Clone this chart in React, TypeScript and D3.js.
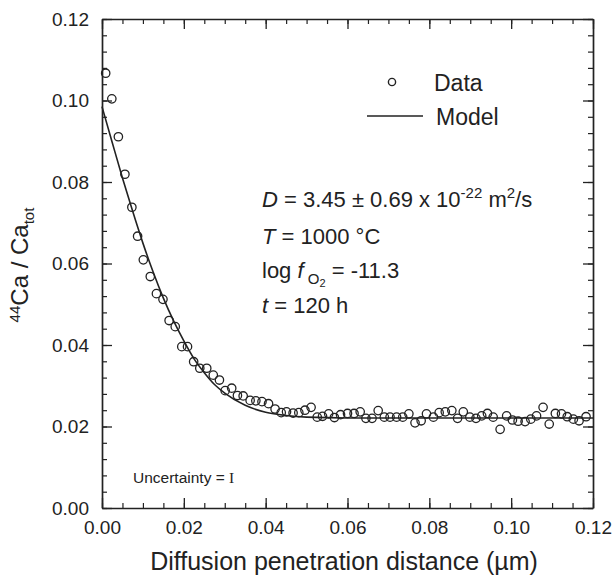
import * as d3 from 'd3';
import { useEffect, useRef } from 'react';

// measured profile (distance in µm, 44Ca/Ca_tot)
const dataX = [
  0.0009, 0.0024, 0.0040, 0.0056, 0.0073, 0.0087, 0.0101, 0.0118, 0.0133, 0.0149,
  0.0164, 0.0179, 0.0195, 0.0209, 0.0224, 0.0239, 0.0256, 0.0272, 0.0287, 0.0301,
  0.0317, 0.0331, 0.0345, 0.0362, 0.0376, 0.0391, 0.0407, 0.0423, 0.0438, 0.0451,
  0.0467, 0.0481, 0.0496, 0.0511, 0.0526, 0.0539, 0.0554, 0.0568, 0.0583, 0.0600,
  0.0616, 0.0631, 0.0645, 0.0660, 0.0675, 0.0690, 0.0704, 0.0720, 0.0735, 0.0750,
  0.0765, 0.0780, 0.0793, 0.0810, 0.0824, 0.0839, 0.0855, 0.0869, 0.0883, 0.0899,
  0.0914, 0.0928, 0.0942, 0.0956, 0.0973, 0.0989, 0.1003, 0.1017, 0.1034, 0.1048,
  0.1062, 0.1078, 0.1093, 0.1108, 0.1123, 0.1137, 0.1152, 0.1166, 0.1183,
];
const dataY = [
  0.1067, 0.1004, 0.0911, 0.0819, 0.0738, 0.0667, 0.0609, 0.0568, 0.0526, 0.0512,
  0.0460, 0.0445, 0.0396, 0.0396, 0.0359, 0.0343, 0.0343, 0.0326, 0.0314, 0.0288,
  0.0294, 0.0276, 0.0275, 0.0264, 0.0263, 0.0261, 0.0256, 0.0243, 0.0234, 0.0236,
  0.0233, 0.0234, 0.0240, 0.0247, 0.0223, 0.0225, 0.0231, 0.0222, 0.0229, 0.0232,
  0.0232, 0.0236, 0.0220, 0.0220, 0.0239, 0.0223, 0.0223, 0.0223, 0.0223, 0.0231,
  0.0209, 0.0214, 0.0231, 0.0223, 0.0234, 0.0236, 0.0239, 0.0220, 0.0236, 0.0223,
  0.0220, 0.0226, 0.0232, 0.0223, 0.0193, 0.0226, 0.0216, 0.0213, 0.0212, 0.0218,
  0.0226, 0.0247, 0.0206, 0.0232, 0.0231, 0.0224, 0.0218, 0.0214, 0.0224,
];

// model curve
const modelX = [0, 0.0025, 0.005, 0.0075, 0.01, 0.0125, 0.015, 0.0175, 0.02, 0.0225, 0.025, 0.0275, 0.03, 0.035, 0.04, 0.045, 0.05, 0.06, 0.08, 0.1, 0.12];
const modelY = [0.0985, 0.0897, 0.081, 0.0728, 0.065, 0.0579, 0.0515, 0.0459, 0.041, 0.0366, 0.0332, 0.0303, 0.0282, 0.0252, 0.0235, 0.0227, 0.0223, 0.0221, 0.0221, 0.0221, 0.0221];

const xTickValues = [0, 0.02, 0.04, 0.06, 0.08, 0.1, 0.12];
const yTickValues = [0, 0.02, 0.04, 0.06, 0.08, 0.1, 0.12];
const xMinorTicks = d3.range(0, 0.1201, 0.005);
const yMinorTicks = d3.range(0, 0.1201, 0.004);

const App = () => {
  const svgRef = useRef<SVGSVGElement | null>(null);

  useEffect(() => {
    const width = 613;
    const height = 575;
    const font = 'Arial, "Liberation Sans", Helvetica, sans-serif';
    const ink = '#222';

    const x = d3.scaleLinear().domain([0, 0.12]).range([102, 593]);
    const y = d3.scaleLinear().domain([0, 0.12]).range([508, 19]);
    const fmt = d3.format('.2f');

    const svg = d3.select(svgRef.current)
      .attr('width', width)
      .attr('height', height);

    svg.selectAll('*').remove();
    svg.append('rect').attr('width', width).attr('height', height).attr('fill', '#fff');

    // minor ticks on all four sides (inward)
    const minor = [
      { axis: d3.axisBottom(x).tickValues(xMinorTicks), t: `translate(0,${y(0)})` },
      { axis: d3.axisTop(x).tickValues(xMinorTicks), t: `translate(0,${y(0.12)})` },
      { axis: d3.axisLeft(y).tickValues(yMinorTicks), t: `translate(${x(0)},0)` },
      { axis: d3.axisRight(y).tickValues(yMinorTicks), t: `translate(${x(0.12)},0)` },
    ];
    minor.forEach(({ axis, t }) => {
      const g = svg.append('g')
        .attr('transform', t)
        .call(axis.tickSizeInner(-5).tickSizeOuter(0).tickFormat(() => ''));
      g.select('.domain').remove();
      g.selectAll('line').attr('stroke', ink).attr('stroke-width', 1.2);
    });

    // major ticks
    const major = [
      { axis: d3.axisBottom(x).tickValues(xTickValues).tickFormat((d) => fmt(d as number)), t: `translate(0,${y(0)})` },
      { axis: d3.axisTop(x).tickValues(xTickValues).tickFormat(() => ''), t: `translate(0,${y(0.12)})` },
      { axis: d3.axisLeft(y).tickValues(yTickValues).tickFormat((d) => fmt(d as number)), t: `translate(${x(0)},0)` },
      { axis: d3.axisRight(y).tickValues(yTickValues).tickFormat(() => ''), t: `translate(${x(0.12)},0)` },
    ];
    major.forEach(({ axis, t }) => {
      const g = svg.append('g')
        .attr('transform', t)
        .call(axis.tickSizeInner(-10).tickSizeOuter(0).tickPadding(13));
      g.select('.domain').attr('stroke', ink).attr('stroke-width', 1.7);
      g.selectAll('line').attr('stroke', ink).attr('stroke-width', 1.3);
      g.selectAll('text')
        .attr('font-family', font)
        .attr('font-size', 19)
        .attr('fill', ink);
    });

    // model line
    const line = d3.line<number>()
      .x((_, i) => x(modelX[i]))
      .y((d) => y(d))
      .curve(d3.curveMonotoneX);

    svg.append('path')
      .datum(modelY)
      .attr('fill', 'none')
      .attr('stroke', ink)
      .attr('stroke-width', 1.6)
      .attr('d', line);

    // data points
    svg.append('g')
      .selectAll('circle')
      .data(dataY)
      .join('circle')
      .attr('cx', (_, i) => x(dataX[i]))
      .attr('cy', (d) => y(d))
      .attr('r', 4.2)
      .attr('fill', 'none')
      .attr('stroke', ink)
      .attr('stroke-width', 1.3);

    // legend
    svg.append('circle')
      .attr('cx', 392).attr('cy', 82).attr('r', 3.6)
      .attr('fill', 'none').attr('stroke', ink).attr('stroke-width', 1.4);
    svg.append('text')
      .attr('x', 434).attr('y', 91)
      .attr('font-family', font).attr('font-size', 23).attr('fill', ink)
      .text('Data');
    svg.append('line')
      .attr('x1', 367).attr('x2', 423).attr('y1', 116).attr('y2', 116)
      .attr('stroke', ink).attr('stroke-width', 1.4);
    svg.append('text')
      .attr('x', 436).attr('y', 125)
      .attr('font-family', font).attr('font-size', 23).attr('fill', ink)
      .text('Model');

    // annotation block
    const ann = svg.append('g')
      .attr('font-family', font)
      .attr('font-size', 22)
      .attr('fill', ink);

    const l1 = ann.append('text').attr('x', 262).attr('y', 207);
    l1.append('tspan').attr('font-style', 'italic').text('D');
    l1.append('tspan').text(' = 3.45 ± 0.69 x 10');
    l1.append('tspan').attr('font-size', 15).attr('dy', -9).text('-22');
    l1.append('tspan').attr('dy', 9).text(' m');
    l1.append('tspan').attr('font-size', 15).attr('dy', -9).text('2');
    l1.append('tspan').attr('dy', 9).text('/s');

    const l2 = ann.append('text').attr('x', 262).attr('y', 244);
    l2.append('tspan').attr('font-style', 'italic').text('T');
    l2.append('tspan').text(' = 1000 °C');

    const l3 = ann.append('text').attr('x', 262).attr('y', 278);
    l3.append('tspan').text('log ');
    l3.append('tspan').attr('font-style', 'italic').text('f');
    l3.append('tspan').attr('font-size', 15).attr('dy', 6).text(' O');
    l3.append('tspan').attr('font-size', 11).attr('dy', 3).text('2');
    l3.append('tspan').attr('dy', -9).text(' = -11.3');

    const l4 = ann.append('text').attr('x', 262).attr('y', 313);
    l4.append('tspan').attr('font-style', 'italic').text('t');
    l4.append('tspan').text(' = 120 h');

    // uncertainty note
    const unc = svg.append('text')
      .attr('x', 133).attr('y', 483)
      .attr('font-family', font).attr('font-size', 15.5).attr('fill', ink);
    unc.append('tspan').text('Uncertainty = ');
    unc.append('tspan').attr('font-family', '"Liberation Serif", "DejaVu Serif", serif').text('I');

    // axis titles
    svg.append('text')
      .attr('x', 344).attr('y', 570)
      .attr('text-anchor', 'middle')
      .attr('font-family', font).attr('font-size', 25).attr('fill', ink)
      .text('Diffusion penetration distance (µm)');

    const yt = svg.append('text')
      .attr('transform', 'translate(28,265) rotate(-90)')
      .attr('text-anchor', 'middle')
      .attr('font-family', font).attr('font-size', 24).attr('fill', ink);
    yt.append('tspan').attr('font-size', 15).attr('dy', -8).text('44');
    yt.append('tspan').attr('dy', 8).text('Ca / Ca');
    yt.append('tspan').attr('font-size', 15).attr('dy', 6).text('tot');
  }, []);

  return <svg ref={svgRef} style={{ position: 'absolute', left: 0, top: 0 }}></svg>;
};

export default App;
